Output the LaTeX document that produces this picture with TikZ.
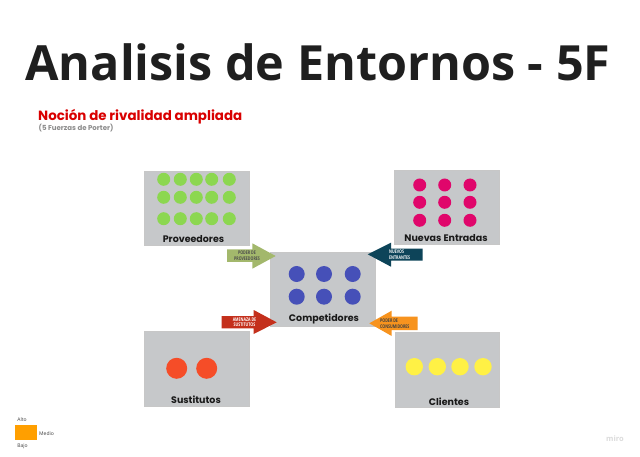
\documentclass[tikz,border=0pt]{standalone}
\usepackage{fontspec}
\setmainfont{Open Sans}
\newfontfamily\pop{Poppins}
\newfontfamily\ocond[FakeStretch=0.72]{Open Sans}
\definecolor{boxgray}{HTML}{C6C8CA}
\definecolor{cgreen}{HTML}{8CD750}
\definecolor{cpink}{HTML}{E0066B}
\definecolor{cblue}{HTML}{4650B8}
\definecolor{cred}{HTML}{F54D28}
\definecolor{cyellow}{HTML}{FFF145}
\definecolor{aolive}{HTML}{A3B86C}
\definecolor{anavy}{HTML}{0D4459}
\definecolor{abrick}{HTML}{C4301C}
\definecolor{aorange}{HTML}{F7931E}
\tikzset{
  panel/.style={fill=boxgray,draw=black!22,line width=0.5pt},
  panellabel/.style={font=\pop\bfseries\fontsize{9.5}{10}\selectfont,text=black!90,inner sep=0pt},
  arrowtext/.style={font=\ocond\bfseries\fontsize{5}{5.6}\selectfont,align=center,inner sep=0pt},
  legendtext/.style={font=\fontsize{5}{6}\selectfont,text=black!75,inner sep=0pt}
}
\begin{document}
\begin{tikzpicture}[x=1pt,y=-1pt]
\useasboundingbox (0,0) rectangle (640,457);
\fill[white] (0,0) rectangle (640,457);
% title
\node[inner sep=0pt,text=black!88,font=\bfseries\fontsize{48.5}{50}\selectfont] (title) at (318,62) {Analisis de Entornos - 5F};
\node[anchor=west,inner sep=0pt,text=red!85!black,font=\pop\bfseries\fontsize{13.4}{14}\selectfont] (subtitle) at (38,116.5) {Noción de rivalidad ampliada};
\node[anchor=west,inner sep=0pt,text=black!45,font=\pop\bfseries\fontsize{7}{8}\selectfont] (subnote) at (38.5,128) {(5 Fuerzas de Porter)};
% panels
\filldraw[panel] (144.5,171) rectangle (249.3,245.5);
\filldraw[panel] (394,170) rectangle (499,244.7);
\filldraw[panel] (270,252) rectangle (375,326.7);
\filldraw[panel] (144.7,331.7) rectangle (249.3,406.7);
\filldraw[panel] (395,332.3) rectangle (499.7,407);
% dots
\foreach \x in {163.7,180.3,196.3,211.7,229.3}
  \foreach \y in {179.3,197.3,218.7}
    \fill[cgreen] (\x,\y) circle[radius=6.5];
\foreach \x in {419.7,444.7,470}
  \foreach \y in {185,202.3,220.3}
    \fill[cpink] (\x,\y) circle[radius=6.5];
\foreach \x in {296.7,324,352.7}
  \foreach \y in {274,296.7}
    \fill[cblue] (\x,\y) circle[radius=8];
\foreach \x in {176.7,206.7}
  \fill[cred] (\x,368.3) circle[radius=10.5];
\foreach \x in {414.3,437.3,460,483}
  \fill[cyellow] (\x,366.7) circle[radius=8.7];
% panel labels
\node[panellabel] (prov) at (193.5,239) {Proveedores};
\node[panellabel] (nuev) at (446,238) {Nuevas Entradas};
\node[panellabel] (comp) at (324,318.5) {Competidores};
\node[panellabel] (sust) at (196,400) {Sustitutos};
\node[panellabel] (clie) at (449,402) {Clientes};
% block arrows
\fill[aolive] (227,249.3) -- (252.3,249.3) -- (252.3,243.3) -- (275.7,256) -- (252.3,268.7) -- (252.3,262) -- (227,262) -- cycle;
\node[arrowtext,text=black!70] (a1) at (247,256) {PODER DE\\PROVEEDORES};
\fill[anavy] (422.7,248.7) -- (391,248.7) -- (391,242.7) -- (367.7,254.3) -- (391,266.7) -- (391,260.7) -- (422.7,260.7) -- cycle;
\node[arrowtext,text=white,anchor=west,align=left] (a2) at (389,254.7) {NUEVOS\\ENTRANTES};
\fill[abrick] (221.7,316) -- (253.7,316) -- (253.7,310) -- (276.7,322.3) -- (253.7,334) -- (253.7,328.3) -- (221.7,328.3) -- cycle;
\node[arrowtext,text=white] (a3) at (244.5,322.3) {AMENAZA DE\\SUSTITUTOS};
\fill[aorange] (417.7,316.7) -- (391.7,316.7) -- (391.7,310.7) -- (369.3,323.3) -- (391.7,336) -- (391.7,330) -- (417.7,330) -- cycle;
\node[arrowtext,text=black!75,anchor=west,align=left] (a4) at (380,323.5) {PODER DE\\CONSUMIDORES};
% legend
\fill[orange!75!yellow] (14.5,425) rectangle (37,440);
\node[legendtext] (alto) at (22,420) {Alto};
\node[legendtext,anchor=west] (medio) at (39,433.5) {Medio};
\node[legendtext] (bajo) at (22.5,446) {Bajo};
% watermark
\node[inner sep=0pt,text=black!14,font=\bfseries\fontsize{7.5}{8}\selectfont] (miro) at (615,439) {miro};
\end{tikzpicture}
\end{document}
